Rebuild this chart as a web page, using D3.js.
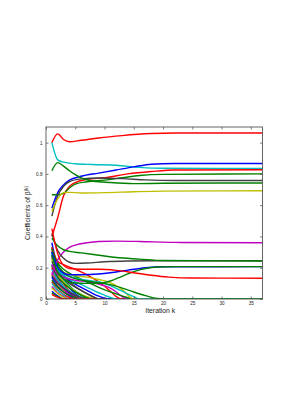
<!DOCTYPE html>
<html>
<head>
<meta charset="utf-8">
<script src="https://cdn.jsdelivr.net/npm/d3@7"></script>
<style>
  body { margin: 0; background: #fff; }
  text { font-family: "Liberation Sans", Arial, sans-serif; fill: #222; }
</style>
</head>
<body>
<svg width="289" height="410"></svg>
<script>
// tick values
var iterTicks = [0, 5, 10, 15, 20, 25, 30, 35];
var coefTicks = [0, 0.2, 0.4, 0.6, 0.8, 1];
var iterMax = 37;
var coefMax = 1.1;

// coefficient paths that stay non-zero, [iteration, value]
var stablePaths = [
  [[1,1.0],[2,1.056],[3,1.02],[4,1.006],[6,1.015],[9,1.03],[13,1.045],[18,1.058],[22,1.062],[37,1.062]],
  [[1,1.0],[2,0.89],[3,0.875],[5,0.865],[8,0.86],[12,0.855],[16,0.842],[20,0.836],[37,0.835]],
  [[1,0.58],[2,0.68],[3,0.73],[4,0.76],[6,0.785],[9,0.805],[12,0.825],[15,0.845],[18,0.862],[22,0.867],[37,0.867]],
  [[1,0.40],[2,0.52],[3,0.66],[4,0.72],[5,0.745],[7,0.765],[10,0.775],[14,0.80],[18,0.815],[22,0.825],[37,0.827]],
  [[1,0.667],[2,0.667],[3,0.675],[4,0.71],[5,0.735],[7,0.75],[10,0.76],[13,0.775],[16,0.79],[20,0.797],[37,0.80]],
  [[1,0.53],[2,0.66],[3,0.72],[4,0.75],[6,0.768],[9,0.774],[13,0.77],[17,0.762],[22,0.758],[37,0.758]],
  [[1,0.82],[2,0.872],[3,0.85],[4,0.82],[5,0.795],[6,0.775],[8,0.755],[11,0.745],[15,0.738],[20,0.74],[37,0.742]],
  [[1,0.56],[2,0.64],[3,0.68],[4,0.682],[6,0.678],[10,0.68],[15,0.686],[20,0.69],[37,0.692]],
  [[1,0.15],[2,0.25],[3,0.30],[4,0.33],[5,0.345],[7,0.36],[9,0.368],[12,0.37],[16,0.368],[22,0.362],[37,0.36]],
  [[1,0.42],[2,0.31],[3,0.26],[4,0.235],[5,0.228],[7,0.23],[10,0.238],[14,0.243],[20,0.245],[37,0.245]],
  [[1,0.39],[2,0.34],[3,0.315],[4,0.305],[6,0.295],[9,0.28],[12,0.265],[16,0.255],[20,0.246],[37,0.243]],
  [[1,0.30],[2,0.20],[3,0.165],[4,0.155],[6,0.155],[9,0.16],[11,0.168],[14,0.185],[17,0.20],[20,0.206],[37,0.207]],
  [[1,0.28],[2,0.17],[3,0.13],[4,0.11],[5,0.102],[7,0.10],[9,0.10],[11,0.115],[13,0.145],[15,0.175],[17,0.195],[19,0.205],[22,0.207],[37,0.207]],
  [[1,0.45],[2,0.29],[3,0.215],[4,0.195],[6,0.19],[9,0.19],[12,0.183],[15,0.168],[18,0.152],[21,0.14],[25,0.134],[37,0.133]]
];
var stableColors = ["r", "c", "b", "r", "g", "k", "g", "y", "m", "k", "g", "b", "g", "r"];

// coefficient paths that are driven to zero
var fadingPaths = [
  [[1,0.36],[2,0.20],[3,0.12],[4,0.07],[5,0.035],[6,0.01],[7,0],[37,0]],
  [[1,0.33],[2,0.20],[3,0.13],[4,0.085],[5,0.05],[6,0.025],[7,0.008],[8,0],[37,0]],
  [[1,0.31],[2,0.17],[3,0.10],[4,0.05],[5,0.02],[6,0],[37,0]],
  [[1,0.29],[2,0.18],[3,0.12],[4,0.08],[5,0.05],[6,0.03],[7,0.012],[8,0],[37,0]],
  [[1,0.27],[2,0.14],[3,0.08],[4,0.04],[5,0.012],[6,0],[37,0]],
  [[1,0.25],[2,0.16],[3,0.11],[4,0.075],[5,0.05],[6,0.03],[8,0.005],[9,0],[37,0]],
  [[1,0.24],[2,0.17],[3,0.13],[4,0.10],[5,0.075],[6,0.055],[7,0.035],[8,0.015],[9,0],[37,0]],
  [[1,0.22],[2,0.12],[3,0.07],[4,0.035],[5,0.01],[6,0],[37,0]],
  [[1,0.21],[2,0.14],[3,0.10],[4,0.07],[5,0.045],[6,0.025],[7,0.008],[8,0],[37,0]],
  [[1,0.20],[2,0.11],[3,0.06],[4,0.025],[5,0],[37,0]],
  [[1,0.19],[2,0.12],[3,0.08],[4,0.05],[5,0.028],[6,0.01],[7,0],[37,0]],
  [[1,0.17],[2,0.10],[3,0.06],[4,0.03],[5,0.01],[6,0],[37,0]],
  [[1,0.16],[2,0.09],[3,0.05],[4,0.02],[5,0],[37,0]],
  [[1,0.15],[2,0.10],[3,0.07],[4,0.045],[5,0.025],[6,0.01],[7,0],[37,0]],
  [[1,0.14],[2,0.08],[3,0.045],[4,0.02],[5,0],[37,0]],
  [[1,0.12],[2,0.075],[3,0.045],[4,0.025],[5,0.01],[6,0],[37,0]],
  [[1,0.11],[2,0.06],[3,0.03],[4,0.01],[5,0],[37,0]],
  [[1,0.10],[2,0.055],[3,0.025],[4,0],[37,0]],
  [[1,0.08],[2,0.04],[3,0.015],[4,0],[37,0]],
  [[1,0.07],[2,0.035],[3,0.01],[4,0],[37,0]],
  [[1,0.05],[2,0.02],[3,0],[37,0]],
  [[1,0.04],[2,0.015],[3,0],[37,0]],
  [[1,0.03],[2,0.01],[3,0],[37,0]],
  [[1,0.30],[2,0.20],[3,0.15],[4,0.11],[5,0.08],[6,0.055],[7,0.035],[8,0.015],[9,0],[37,0]],
  [[1,0.28],[2,0.19],[3,0.15],[4,0.12],[5,0.095],[6,0.075],[7,0.055],[8,0.035],[9,0.018],[10,0.005],[11,0],[37,0]],
  [[1,0.26],[2,0.19],[3,0.15],[5,0.11],[7,0.075],[9,0.04],[11,0.01],[12,0],[37,0]],
  [[1,0.33],[2,0.24],[3,0.22],[5,0.19],[7,0.155],[9,0.11],[11,0.05],[12,0.015],[13,0],[37,0]],
  [[1,0.22],[2,0.16],[3,0.14],[5,0.12],[7,0.11],[9,0.095],[11,0.07],[12,0.045],[13,0.015],[14,0],[37,0]],
  [[1,0.30],[2,0.23],[3,0.19],[5,0.145],[7,0.11],[9,0.075],[11,0.045],[13,0.02],[15,0],[37,0]],
  [[1,0.26],[2,0.20],[3,0.17],[5,0.15],[7,0.14],[9,0.125],[11,0.105],[13,0.06],[15,0],[37,0]],
  [[1,0.30],[2,0.20],[3,0.16],[5,0.135],[7,0.12],[9,0.11],[11,0.085],[13,0.05],[15,0.015],[16,0],[37,0]],
  [[1,0.32],[2,0.22],[3,0.17],[5,0.13],[7,0.115],[9,0.105],[11,0.092],[13,0.07],[15,0.045],[17,0.022],[19,0.003],[20,0],[37,0]]
];
var fadingColors = ["b", "g", "r", "c", "m", "y", "k", "b", "g", "r", "c", "m", "y", "k", "b", "g",
                    "r", "c", "m", "y", "b", "g", "r", "k", "b", "c", "r", "m", "g", "y", "c", "g"];

var palette = {b: "#0000ff", g: "#008000", r: "#ff0000", c: "#00bfbf", m: "#bf00bf", y: "#bfbf00", k: "#404040"};

var svg = d3.select("svg"),
    margin = {top: 127, right: 26.5, bottom: 111, left: 46},
    width = +svg.attr("width") - (margin.left + margin.right),
    height = +svg.attr("height") - (margin.top + margin.bottom);

var x = d3.scaleLinear().domain([0, iterMax]).range([0, width]),
    y = d3.scaleLinear().domain([0, coefMax]).range([height, 0]);

var g = svg.append("g").attr("transform", "translate(" + margin.left + "," + margin.top + ")");

g.append("clipPath").attr("id", "plotclip")
  .append("rect").attr("x", 0).attr("y", 0).attr("width", width).attr("height", height);

var line = d3.line()
    .x(function(d) { return x(d[0]); })
    .y(function(d) { return y(d[1]); })
    .curve(d3.curveMonotoneX);

var lines = g.append("g").attr("clip-path", "url(#plotclip)");

lines.selectAll(".fading")
    .data(fadingPaths)
    .enter().append("path")
    .attr("class", "fading")
    .attr("d", line)
    .attr("fill", "none")
    .attr("stroke", function(d, i) { return palette[fadingColors[i]]; })
    .attr("stroke-width", 1.4);

lines.selectAll(".stable")
    .data(stablePaths)
    .enter().append("path")
    .attr("class", "stable")
    .attr("d", line)
    .attr("fill", "none")
    .attr("stroke", function(d, i) { return palette[stableColors[i]]; })
    .attr("stroke-width", 1.4);

// axes, matlab style: ticks inside, box all round
var tickFmt = function(d) { return d === 0 ? "0" : d3.format("~g")(d); };

g.append("g")
    .attr("class", "axis axis-x")
    .attr("transform", "translate(0," + height + ")")
    .call(d3.axisBottom(x).tickValues(iterTicks).tickSize(-2.5).tickPadding(3).tickFormat(tickFmt));

g.append("g")
    .attr("class", "axis axis-y")
    .call(d3.axisLeft(y).tickValues(coefTicks).tickSize(-2.5).tickPadding(3.5).tickFormat(tickFmt));

g.append("g")
    .attr("class", "axis axis-top")
    .call(d3.axisTop(x).tickValues(iterTicks).tickSize(-2.5).tickFormat(""));

g.append("g")
    .attr("class", "axis axis-right")
    .attr("transform", "translate(" + width + ",0)")
    .call(d3.axisRight(y).tickValues(coefTicks).tickSize(-2.5).tickFormat(""));

g.selectAll(".axis .domain").remove();
g.selectAll(".axis line").attr("stroke", "#444").attr("stroke-width", 0.7);
g.selectAll(".axis text").attr("font-size", 4.6).attr("fill", "#222");

g.append("rect")
    .attr("width", width)
    .attr("height", height)
    .attr("fill", "none")
    .attr("stroke", "#555")
    .attr("stroke-width", 0.9);

g.append("text")
    .attr("x", width / 2 + 6)
    .attr("y", height + 13.5)
    .attr("text-anchor", "middle")
    .attr("font-size", 6.8)
    .text("Iteration k");

var ylab = g.append("text")
    .attr("transform", "translate(-16," + (height / 2) + ") rotate(-90)")
    .attr("text-anchor", "middle")
    .attr("font-size", 6.8);
ylab.append("tspan").text("Coefficients of \u03b2");
ylab.append("tspan").attr("baseline-shift", "super").attr("font-size", 4.6).text("(k)");
</script>
</body>
</html>
